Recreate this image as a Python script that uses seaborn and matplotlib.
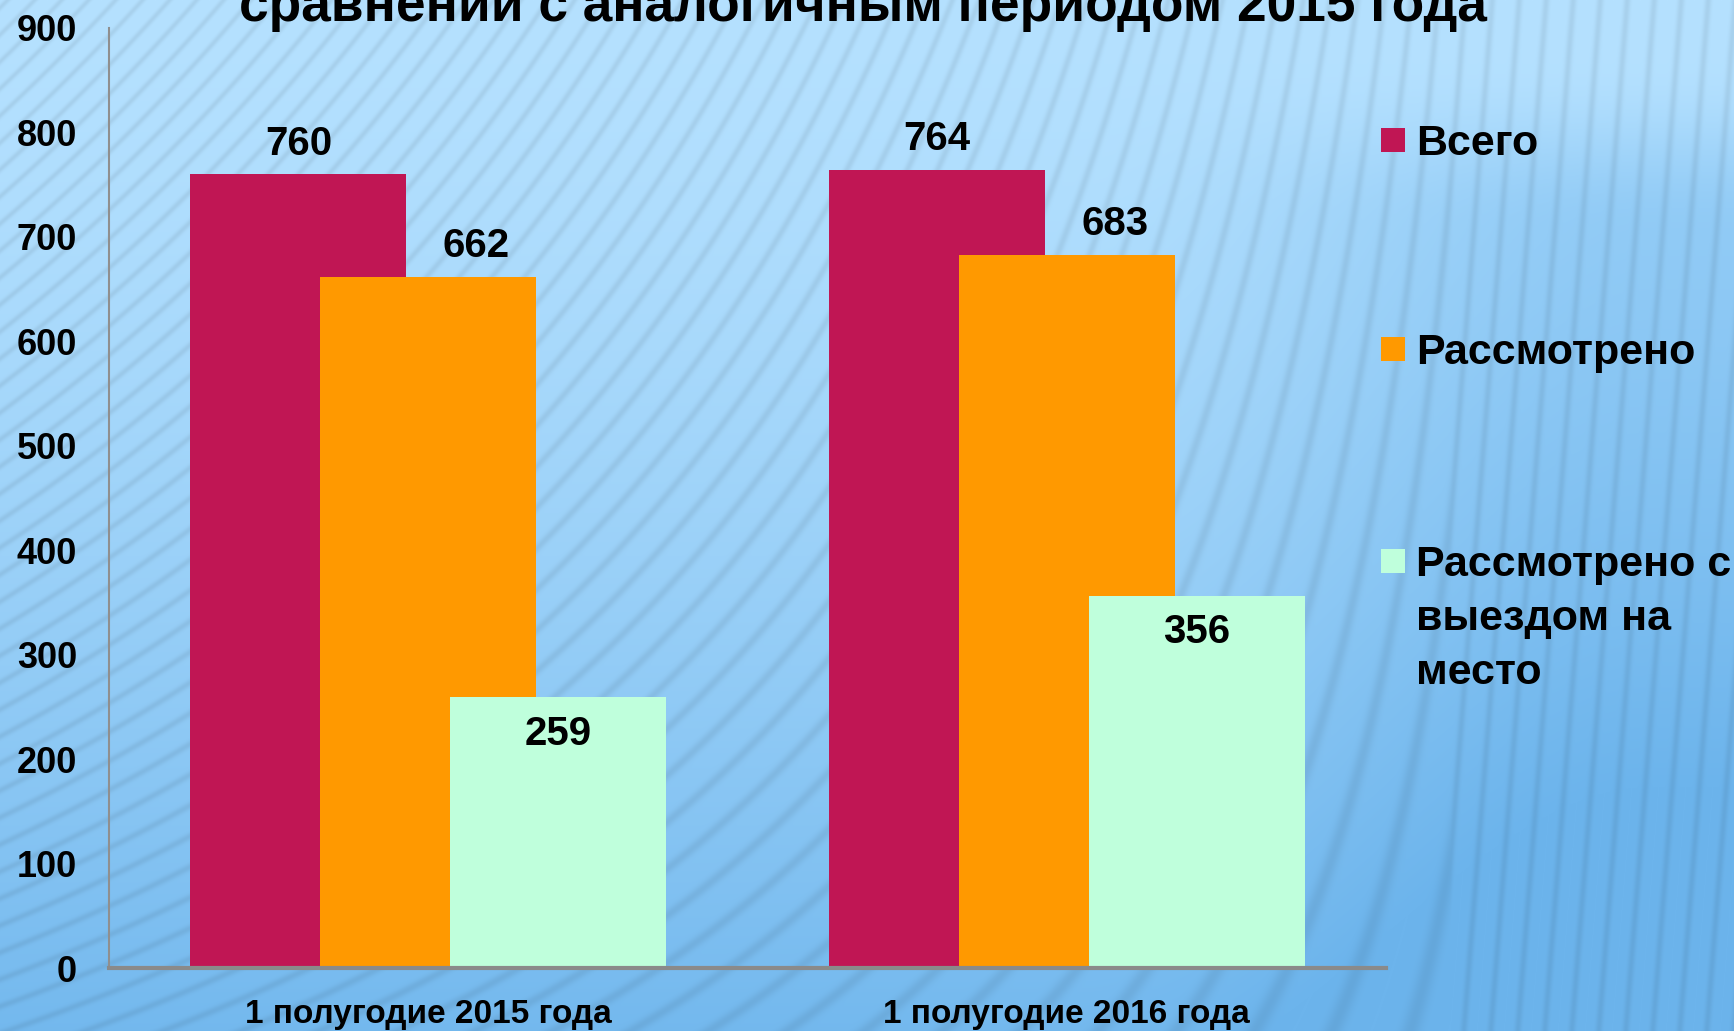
import numpy as np
import pandas as pd
import matplotlib
matplotlib.use("Agg")
import matplotlib.pyplot as plt
import seaborn as sns
from matplotlib.patches import Rectangle

# ---------------- data ----------------
title_text = "сравнении с аналогичным периодом 2015 года"
categories = ["1 полугодие 2015 года", "1 полугодие 2016 года"]
series_names = ["Всего", "Рассмотрено", "Рассмотрено с\nвыездом на\nместо"]
vsego = [760, 764]
rassmotreno = [662, 683]
s_vyezdom = [259, 356]
series_values = [vsego, rassmotreno, s_vyezdom]
colors = ["#C01654", "#FF9900", "#BFFFDC"]
y_ticks = [0, 100, 200, 300, 400, 500, 600, 700, 800, 900]

# ---------------- style ----------------
sns.set_theme(style="white")
plt.rcParams['font.family'] = ['Liberation Sans', 'DejaVu Sans']
plt.rcParams['font.weight'] = 'bold'

W, H = 1734, 1031
fig = plt.figure(figsize=(W / 100, H / 100), dpi=100)

# background gradient with stripes
bg = fig.add_axes([0, 0, 1, 1], zorder=0)
yy, xx = np.mgrid[0:H, 0:W].astype(float)
xn, yn = xx / W, yy / H

def smooth(a, b, v):
    s = np.clip((v - a) / (b - a), 0, 1)
    return s * s * (3 - 2 * s)

t = 0.9 * yn ** 1.5 + 0.4 * smooth(0.62, 0.95, xn) * smooth(0.06, 0.22, yn)
t = np.clip(t, 0, 1)
light = np.array([181, 225, 255]) / 255.0
dark = np.array([108, 180, 236]) / 255.0
img = light[None, None, :] * (1 - t[..., None]) + dark[None, None, :] * t[..., None]
slope = np.clip(1.0 - 1.1 * xn, 0.08, 1.0)
phase = (xx + slope * yy) / 27.0
stripe = (0.5 + 0.5 * np.sin(2 * np.pi * phase)) ** 6
img = img * (1 - 0.07 * stripe[..., None])
bg.imshow(np.clip(img, 0, 1), aspect="auto", extent=[0, 1, 0, 1], origin="upper")
bg.set_axis_off()

# main axes
ax = fig.add_axes([109 / W, 1 - 968 / H, (1386 - 109) / W, (968 - 28) / H], zorder=1)
ax.patch.set_alpha(0)

offsets = [-0.2035, 0.0, 0.2035]
bar_w = 0.338
positions = np.arange(len(categories))
for vals, off, col in zip(series_values, offsets, colors):
    df = pd.DataFrame({"pos": positions + off, "value": vals})
    sns.barplot(data=df, x="pos", y="value", native_scale=True, width=bar_w,
                color=col, saturation=1, linewidth=0, errorbar=None, ax=ax)

# value labels
label_shift = 0.075
for i in range(len(categories)):
    ax.annotate(str(vsego[i]), (positions[i] + offsets[0], vsego[i]), xytext=(0, 22),
                textcoords="offset points", ha="center", va="center",
                fontsize=29, fontweight="bold", color="black")
    ax.annotate(str(rassmotreno[i]), (positions[i] + offsets[1] + label_shift, rassmotreno[i]),
                xytext=(0, 22), textcoords="offset points", ha="center", va="center",
                fontsize=29, fontweight="bold", color="black")
    ax.annotate(str(s_vyezdom[i]), (positions[i] + offsets[2], s_vyezdom[i]), xytext=(0, -26),
                textcoords="offset points", ha="center", va="center",
                fontsize=29, fontweight="bold", color="black")

ax.set_xlim(-0.5, 1.5)
ax.set_ylim(0, 900)
ax.set_yticks(y_ticks)
ax.set_yticklabels([str(v) for v in y_ticks], fontsize=26, fontweight="bold")
ax.set_xticks(positions)
ax.set_xticklabels(categories, fontsize=24, fontweight="bold")
ax.tick_params(axis="y", length=0, pad=23, colors="black")
ax.tick_params(axis="x", length=0, pad=22.5, colors="black")
ax.set_xlabel("")
ax.set_ylabel("")
ax.grid(False)
for s in ["top", "right"]:
    ax.spines[s].set_visible(False)
ax.spines["left"].set_color("#8f8f8f")
ax.spines["left"].set_linewidth(1.5)
ax.spines["bottom"].set_color("#8a8a8a")
ax.spines["bottom"].set_linewidth(3)

# title (cut off at top, as in the reference)
fig.text(863 / W, 1 - 21 / H, title_text, ha="center", va="baseline",
         fontsize=38.3, fontweight="bold", color="black")

# legend (manual)
sq = 24
square_centers = [140, 349, 561]
for name, col, cy in zip(series_names, colors, square_centers):
    fig.patches.append(Rectangle((1381 / W, 1 - (cy + sq / 2) / H), sq / W, sq / H,
                                 transform=fig.transFigure, facecolor=col,
                                 edgecolor="none", zorder=3))
    for k, line in enumerate(name.split("\n")):
        fig.text(1416 / W, 1 - (cy + 15 + 54 * k) / H, line, ha="left", va="baseline",
                 fontsize=31, fontweight="bold", color="black", zorder=3)

fig.savefig("out.png", dpi=100)
